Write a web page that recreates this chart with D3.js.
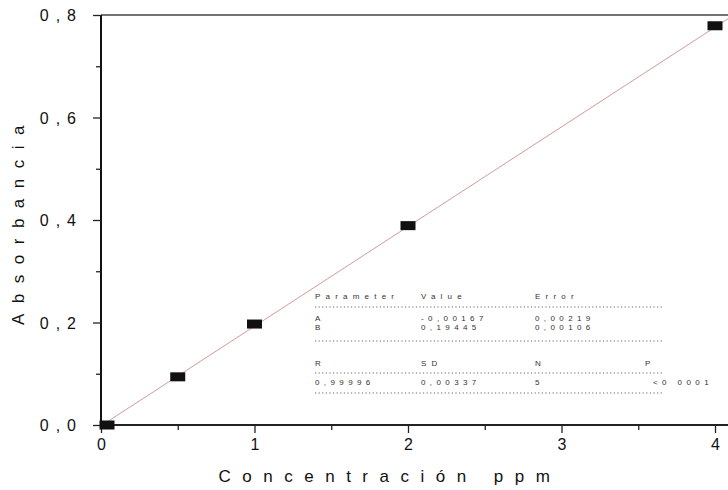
<!DOCTYPE html>
<html><head><meta charset="utf-8">
<script src="https://cdn.jsdelivr.net/npm/d3@7"></script>
<style>
body{margin:0;background:#fff;}
svg{display:block;font-family:"Liberation Sans",Arial,sans-serif;}
</style></head>
<body><svg id="c" width="728" height="490"></svg>
<script>
const concentration = [0, 0.5, 1, 2, 4];
const absorbance = [0.0, 0.094, 0.197, 0.389, 0.779];
const fitA = -0.00167, fitB = 0.19445;
const xTicks = [0, 1, 2, 3, 4];
const xMinor = [0.5, 1.5, 2.5, 3.5];
const yTicks = [0, 0.2, 0.4, 0.6, 0.8];
const yMinor = [0.1, 0.3, 0.5, 0.7];
const tableHead1 = ["Parameter", "Value", "Error"];
const rowA = ["A", "-0,00167", "0,00219"];
const rowB = ["B", "0,19445", "0,00106"];
const tableHead2 = ["R", "SD", "N", "P"];
const rowStats = ["0,99996", "0,00337", "5", "<0 0001"];

const svg = d3.select("#c");
const x = d3.scaleLinear().domain([0, 4.2]).range([101, 101 + 4.2 * 153.5]);
const y = d3.scaleLinear().domain([0, 0.8]).range([425, 15]);

// frame top
svg.append("line").attr("x1", 101).attr("x2", 760).attr("y1", 15).attr("y2", 15)
  .attr("stroke", "#444").attr("stroke-width", 1.5);

// fit line
svg.append("clipPath").attr("id", "pc").append("rect")
  .attr("x", 101).attr("y", 15).attr("width", 700).attr("height", 410);
svg.append("line").attr("clip-path", "url(#pc)")
  .attr("x1", x(0)).attr("y1", y(fitA))
  .attr("x2", x(4.2)).attr("y2", y(fitA + fitB * 4.2))
  .attr("stroke", "#d49a9a").attr("stroke-width", 1);

// axes
const gx = svg.append("g").attr("transform", "translate(0,425)");
gx.call(d3.axisBottom(x).tickValues(xTicks).tickSize(8).tickPadding(6).tickFormat(d3.format("d")));
const gxm = svg.append("g").attr("transform", "translate(0,425)");
gxm.call(d3.axisBottom(x).tickValues(xMinor).tickSize(5).tickFormat(""));
const gy = svg.append("g").attr("transform", "translate(101,0)");
gy.call(d3.axisLeft(y).tickValues(yTicks).tickSize(8).tickPadding(10)
  .tickFormat(d => d3.format(".1f")(d).replace(".", ",")));
const gym = svg.append("g").attr("transform", "translate(101,0)");
gym.call(d3.axisLeft(y).tickValues(yMinor).tickSize(5).tickFormat(""));
gxm.select(".domain").remove();
gym.select(".domain").remove();
gx.select(".domain").attr("d", "M101,0H760").attr("stroke", "#222").attr("stroke-width", 2);
gy.select(".domain").attr("d", "M0,15V425").attr("stroke", "#111").attr("stroke-width", 2);
svg.selectAll(".tick line").attr("stroke", "#222").attr("stroke-width", 1.3);
gx.selectAll(".tick text").attr("font-size", 16).attr("fill", "#111");
gy.selectAll(".tick text").attr("font-size", 16).attr("fill", "#111")
  .style("letter-spacing", "7px").attr("dy", "0.35em");

// axis titles
svg.append("text").attr("x", 390).attr("y", 482).attr("text-anchor", "middle")
  .attr("font-size", 17).attr("fill", "#111").style("letter-spacing", "11.5px")
  .text("Concentración ppm");
svg.append("text").attr("transform", "translate(24,220) rotate(-90)").attr("text-anchor", "middle")
  .attr("font-size", 17).attr("fill", "#111").style("letter-spacing", "10.5px")
  .text("Absorbancia");

// points
svg.append("g").selectAll("rect").data(concentration.map((c, i) => [c, absorbance[i]]))
  .join("rect")
  .attr("x", d => x(d[0]) - 7.5 + (d[0] === 0 ? 6 : 0)).attr("y", d => y(d[1]) - 4.5)
  .attr("width", 15).attr("height", 9).attr("fill", "#111");

// table
const tg = svg.append("g").attr("font-size", 8).attr("fill", "#333");
const cols = [315, 421, 535, 645];
function row(vals, yy, lastAnchorEnd, ls) {
  vals.forEach((v, i) => {
    const t = tg.append("text").attr("x", cols[i]).attr("y", yy).style("letter-spacing", ls + "px").text(v);
    if (lastAnchorEnd && i === 3) t.attr("x", 713).attr("text-anchor", "end");
  });
}
function dots(yy) {
  svg.append("line").attr("x1", 315).attr("x2", 663).attr("y1", yy).attr("y2", yy)
    .attr("stroke", "#666").attr("stroke-width", 1).attr("stroke-dasharray", "1.2,2.4");
}
row(tableHead1, 299, false, 5.2);
dots(307);
row(rowA, 321, false, 4.4);
row(rowB, 330, false, 4.4);
dots(341);
row(tableHead2, 366, false, 5.2);
dots(373);
row(rowStats, 385, true, 4.4);
dots(393);
</script></body></html>
